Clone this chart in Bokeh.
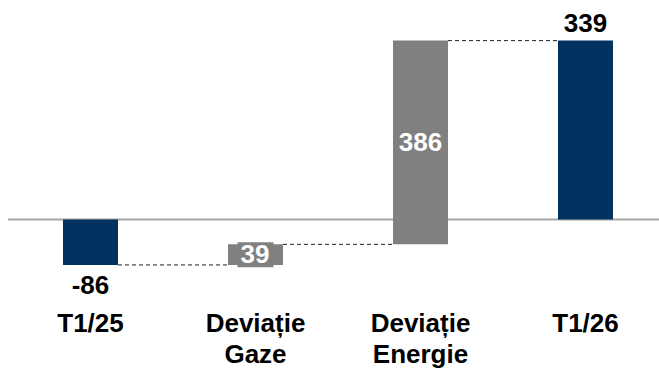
from bokeh.plotting import figure
from bokeh.models import Range1d, ColumnDataSource
from bokeh.embed import file_html
from bokeh.resources import INLINE
from bokeh.core.properties import value

categories = ["T1/25", "Deviație\nGaze", "Deviație\nEnergie", "T1/26"]
values = [-86, 39, 386, 339]
kinds = ["total", "delta", "delta", "total"]

NAVY = "#02325F"
GRAY = "#808080"
FONT = "Liberation Sans"
FS = "26px"
BAR_W = 1 / 3

xs = list(range(len(categories)))
bottoms, tops, levels, colors = [], [], [], []
running = 0
for v, k in zip(values, kinds):
    if k == "total":
        b, t = 0, v
        running = v
        colors.append(NAVY)
    else:
        b, t = running, running + v
        running += v
        colors.append(GRAY)
    bottoms.append(min(b, t))
    tops.append(max(b, t))
    levels.append(running)

p = figure(width=659, height=370, output_backend="svg", toolbar_location=None,
           x_axis_location=None, y_axis_location=None,
           x_range=Range1d(-90 / 165, 569 / 165), y_range=Range1d(-286, 415),
           min_border=0, outline_line_color=None)
p.grid.visible = False
p.background_fill_color = "white"
p.border_fill_color = "white"

# zero line
p.segment(x0=[-0.5], x1=[len(categories) - 0.5], y0=[0], y1=[0],
          line_color="#A6A6A6", line_width=2)

# bars
src = ColumnDataSource(dict(x=xs, bottom=bottoms, top=tops, color=colors))
p.vbar(x="x", width=BAR_W, bottom="bottom", top="top", fill_color="color",
       line_color=None, source=src)

# connectors
cx0 = [i + BAR_W / 2 for i in xs[:-1]]
cx1 = [i + 1 - BAR_W / 2 for i in xs[:-1]]
cy = levels[:-1]
p.segment(x0=cx0, x1=cx1, y0=cy, y1=cy, line_color="#222222",
          line_width=1, line_dash="4 3")

# value labels
lbl = [str(v) for v in values]
for i, (v, k) in enumerate(zip(values, kinds)):
    if k == "total":
        if v >= 0:
            p.text(x=[i], y=[tops[i]], text=[lbl[i]], text_align="center",
                   text_baseline="middle", y_offset=-18, text_color="black",
                   text_font=value(FONT), text_font_style="bold",
                   text_font_size=FS)
        else:
            p.text(x=[i], y=[bottoms[i]], text=[lbl[i]], text_align="center",
                   text_baseline="middle", y_offset=20, text_color="black",
                   text_font=value(FONT), text_font_style="bold",
                   text_font_size=FS)
    else:
        mid = (bottoms[i] + tops[i]) / 2
        small = (tops[i] - bottoms[i]) < 60
        p.text(x=[i], y=[mid], text=[lbl[i]], text_align="center",
               text_baseline="middle", text_color="white",
               text_font=value(FONT), text_font_style="bold",
               text_font_size=FS,
               background_fill_color=GRAY if small else None,
               padding=[3, 4, 3, 4] if small else 0)

# category labels
p.text(x=xs, y=[0] * len(xs), text=categories, text_align="center",
       text_baseline="top", y_offset=88, text_color="black",
       text_font=value(FONT), text_font_style="bold", text_font_size=FS,
       text_line_height=1.05)

open("out.html", "w").write(file_html(p, INLINE))
